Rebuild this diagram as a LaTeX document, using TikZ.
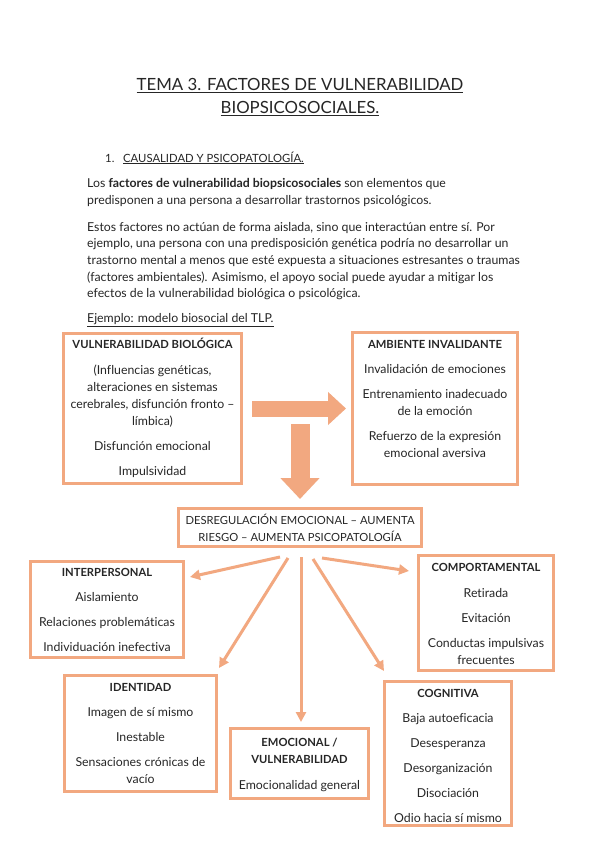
\documentclass[tikz,border=0pt]{standalone}
\usepackage{fontspec}
\setmainfont{Lato}[Ligatures={NoCommon}]
\usetikzlibrary{arrows.meta}
\definecolor{sal}{RGB}{242,168,128}
\definecolor{txt}{RGB}{38,38,38}
\tikzset{
  box/.style={draw=sal, line width=3pt, inner sep=0pt, fill=white},
  boxtxt/.style={align=center, anchor=base, inner sep=0pt, text=txt, font=\fontsize{12.3}{17}\selectfont},
  bodytxt/.style={align=left, anchor=base west, inner sep=0pt, text=txt, font=\fontsize{12.3}{16.7}\selectfont},
  thinarrow/.style={draw=sal, line width=3pt, -{Triangle[length=10pt,width=10pt]}},
}
\newcommand{\bt}[1]{{\fontsize{11.2}{17}\selectfont\bfseries #1}}
\begin{document}
\begin{tikzpicture}[x=1pt,y=-1pt]
\useasboundingbox (0,0) rectangle (599,848);
\fill[white] (0,0) rectangle (599,848);

% title
\node[align=center, anchor=base, inner sep=0pt, text=txt, font=\fontsize{16.8}{23}\selectfont] (title) at (300,113.5)
  {\underline{TEMA 3. FACTORES DE VULNERABILIDAD}\\\underline{BIOPSICOSOCIALES.}};

% section heading
\node[anchor=base west, inner sep=0pt, text=txt, font=\fontsize{11.3}{14}\selectfont] (secnum) at (105,162) {1.};
\node[anchor=base west, inner sep=0pt, text=txt, font=\fontsize{11.3}{14}\selectfont] (sec) at (123,162) {\underline{CAUSALIDAD Y PSICOPATOLOGÍA.}};

% body
\node[bodytxt] (body) at (87,322.5)
  {Los \textbf{factores de vulnerabilidad biopsicosociales} son elementos que\\
   predisponen a una persona a desarrollar trastornos psicológicos.\\[10pt]
   Estos factores no actúan de forma aislada, sino que interactúan entre sí. Por\\
   ejemplo, una persona con una predisposición genética podría no desarrollar un\\
   trastorno mental a menos que esté expuesta a situaciones estresantes o traumas\\
   (factores ambientales). Asimismo, el apoyo social puede ayudar a mitigar los\\
   efectos de la vulnerabilidad biológica o psicológica.\\[8pt]
   \underline{Ejemplo: modelo biosocial del TLP.}};

% boxes
\node[box, minimum width=178pt, minimum height=150pt] (bio) at (152.5,408.5) {};
\node[box, minimum width=165pt, minimum height=152pt] (amb) at (435,408.5) {};
\node[box, minimum width=243pt, minimum height=38pt] (desr) at (300,527.5) {};
\node[box, minimum width=153pt, minimum height=96pt] (inter) at (107,609.5) {};
\node[box, minimum width=135pt, minimum height=115pt] (comp) at (486,613) {};
\node[box, minimum width=152pt, minimum height=116pt] (iden) at (140.5,733.5) {};
\node[box, minimum width=138pt, minimum height=70pt] (emo) at (299.5,763.5) {};
\node[box, minimum width=127pt, minimum height=144pt] (cog) at (448,753.5) {};

% box texts (base anchor = baseline of the last line)
\node[boxtxt] (biot) at (152.5,475)
  {\bt{VULNERABILIDAD BIOLÓGICA}\\[9pt]
   (Influencias genéticas,\\ alteraciones en sistemas\\ cerebrales, disfunción fronto –\\ límbica)\\[8pt]
   Disfunción emocional\\[8pt] Impulsividad};
\node[boxtxt] (ambt) at (435,457)
  {\bt{AMBIENTE INVALIDANTE}\\[8pt]
   Invalidación de emociones\\[8pt]
   Entrenamiento inadecuado\\ de la emoción\\[8pt]
   Refuerzo de la expresión\\ emocional aversiva};
\node[boxtxt, font=\fontsize{11.2}{17}\selectfont] (desrt) at (300,541)
  {DESREGULACIÓN EMOCIONAL – AUMENTA\\ RIESGO – AUMENTA PSICOPATOLOGÍA};
\node[boxtxt] (intert) at (107,651)
  {\bt{INTERPERSONAL}\\[7.5pt] Aislamiento\\[8pt] Relaciones problemáticas\\[8pt] Individuación inefectiva};
\node[boxtxt] (compt) at (486,664)
  {\bt{COMPORTAMENTAL}\\[9pt] Retirada\\[8pt] Evitación\\[8pt] Conductas impulsivas\\ frecuentes};
\node[boxtxt] (ident) at (140.5,783)
  {\bt{IDENTIDAD}\\[8pt] Imagen de sí mismo\\[8pt] Inestable\\[8pt] Sensaciones crónicas de\\ vacío};
\node[boxtxt] (emot) at (299.5,789)
  {\bt{EMOCIONAL /}\\ \bt{VULNERABILIDAD}\\[9pt] Emocionalidad general};
\node[boxtxt] (cogt) at (448,822)
  {\bt{COGNITIVA}\\[8pt] Baja autoeficacia\\[8pt] Desesperanza\\[8pt] Desorganización\\[8pt] Disociación\\[8pt] Odio hacia sí mismo};

% big arrows
\draw[sal, line width=16pt, -{Triangle[length=18pt,width=32pt]}] ([xshift=9pt]bio.east) -- ([xshift=-5pt]amb.west);
\coordinate (dstart) at (300,424);
\draw[sal, line width=19pt, -{Triangle[length=21pt,width=38pt]}] (dstart) -- ([yshift=8pt]desr.north);

% thin arrows
\coordinate (s1) at (280,557); \coordinate (e1) at (190,577);
\coordinate (s2) at (288,558); \coordinate (e2) at (219,668);
\coordinate (s3) at (301,557); \coordinate (e3) at (301,722);
\coordinate (s4) at (313,559); \coordinate (e4) at (384,671);
\coordinate (s5) at (322,558); \coordinate (e5) at (409,571);
\draw[thinarrow] (s1) -- (e1);
\draw[thinarrow] (s2) -- (e2);
\draw[thinarrow] (s3) -- (e3);
\draw[thinarrow] (s4) -- (e4);
\draw[thinarrow] (s5) -- (e5);
\end{tikzpicture}
\end{document}
